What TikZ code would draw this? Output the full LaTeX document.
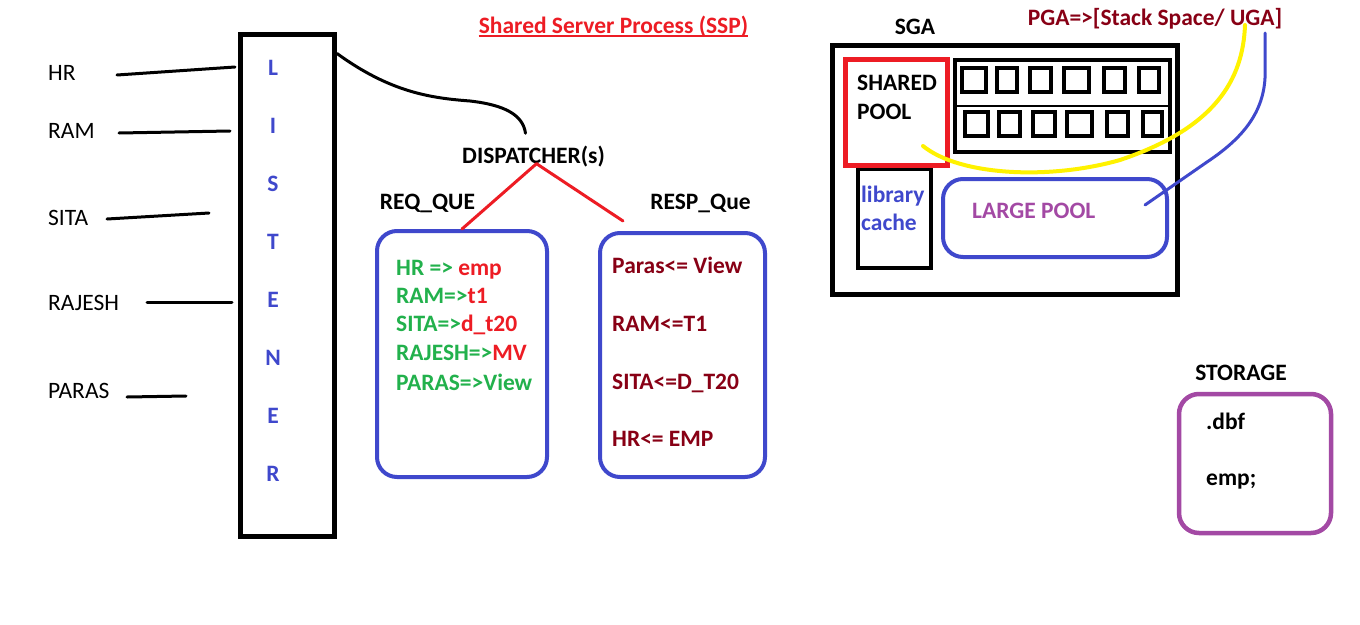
\documentclass[tikz,border=0pt]{standalone}
\usepackage{fontspec}
\setmainfont{Carlito}
\definecolor{penblue}{HTML}{3F48CC}
\definecolor{penred}{HTML}{ED1C24}
\definecolor{pengreen}{HTML}{22B14C}
\definecolor{penbrown}{HTML}{880015}
\definecolor{penpurple}{HTML}{A349A4}
\definecolor{penyellow}{HTML}{FFF200}
\newcommand{\penfont}{\fontsize{23.5}{28}\selectfont}
\begin{document}
\begin{tikzpicture}
        [x=1pt,y=-1pt,
         txt/.style={font=\penfont,inner sep=0pt,text height=15pt,text depth=0pt},
         btxt/.style={txt,font=\penfont\bfseries},
         heavy/.style={draw,line width=5pt,inner sep=0pt},
         qbox/.style={draw=penblue,line width=4pt,rounded corners=20pt,inner sep=0pt},
         pen/.style={line width=3pt,line cap=round}]
        \useasboundingbox[fill=white] (0,0) rectangle (1360,624);

        \foreach \name/\y in {HR/73,RAM/131,SITA/218,RAJESH/303,PARAS/391}
        {\node[txt,anchor=west] (u\name) at (48,\y) {\name};}
        \foreach \name/\xa/\ya/\xb/\yb in {HR/117/75/235/67,RAM/119/133/230/131,SITA/107/219/209/213,RAJESH/147/302/232/302,PARAS/127/397/186/396}
        {\coordinate (\name a) at (\xa,\ya);
         \coordinate (\name b) at (\xb,\yb);
         \draw[pen] (\name a) -- (\name b);}

        \node[heavy,minimum width=94,minimum height=502] (listener) at (287.5,285) {};
        \foreach \ch [count=\i] in {L,I,S,T,E,N,E,R}
        {\node[btxt,text=penblue] (lst\i) at (273,10+58*\i) {\ch};}

        \node[btxt,text=penred] (ssp) at (613.5,26) {Shared Server Process (SSP)};
        \draw[penred,line width=2pt] ([yshift=-2pt]ssp.south west) -- ([yshift=-2pt]ssp.south east);

        \node[btxt] (disp) at (533.5,156) {DISPATCHER(s)};
        \draw[pen] ([yshift=-22pt]listener.north east) .. controls (390,92) and (430,98) .. (470,101)
              .. controls (505,105) and (523,115) .. ([shift={(-8,-15)}]disp.north);

        \node[btxt] (reqt) at (427.5,202) {REQ\_QUE};
        \node[btxt] (respt) at (700.5,202) {RESP\_Que};
        \node[qbox,minimum width=170,minimum height=246] (reqbox) at (462,354) {};
        \node[qbox,minimum width=165,minimum height=244] (respbox) at (682.5,355) {};

        \draw[pen,penred] (reqbox.north) -- ([xshift=3pt]disp.south);
        \draw[pen,penred] ([xshift=3pt]disp.south) -- ([shift={(25,-10)}]respbox.north west);

        \node[btxt,text=pengreen,anchor=west] (rq1) at (396,268) {HR => \textcolor{penred}{emp}};
        \node[btxt,text=pengreen,anchor=west] (rq2) at (396,296) {RAM=>\textcolor{penred}{t1}};
        \node[btxt,text=pengreen,anchor=west] (rq3) at (396,324) {SITA=>\textcolor{penred}{d\_t20}};
        \node[btxt,text=pengreen,anchor=west] (rq4) at (396,353) {RAJESH=>\textcolor{penred}{MV}};
        \node[btxt,text=pengreen,anchor=west] (rq5) at (396,383) {PARAS=>View};

        \node[btxt,text=penbrown,anchor=west] (rs1) at (612,266) {Paras<= View};
        \node[btxt,text=penbrown,anchor=west] (rs2) at (612,324) {RAM<=T1};
        \node[btxt,text=penbrown,anchor=west] (rs3) at (612,382) {SITA<=D\_T20};
        \node[btxt,text=penbrown,anchor=west] (rs4) at (612,439) {HR<= EMP};

        \node[btxt] (sgat) at (915,27) {SGA};
        \node[heavy,minimum width=345,minimum height=249] (sga) at (1005,170) {};
        \node[draw,line width=4.5pt,minimum width=73,minimum height=99] (libc) at (894.5,218.5) {};
        \node[draw=penred,line width=5pt,fill=white,minimum width=102,minimum height=106] (shp) at (896.5,112.5) {};
        \node[btxt,anchor=west] (shp1) at (857,83) {SHARED};
        \node[btxt,anchor=west] (shp2) at (857,112) {POOL};
        \node[btxt,text=penblue,anchor=west] (lib1) at (861,195) {library};
        \node[btxt,text=penblue,anchor=west] (lib2) at (861,223) {cache};

        \node[draw,line width=4.5pt,minimum width=215,minimum height=92] (grid) at (1062.5,106) {};
        \draw[line width=2pt] (grid.west) -- (grid.east);
        \foreach \xa/\xb in {962/986,997/1017,1030/1051,1064/1089,1104/1125,1139/1159}
        {\draw[line width=4.5pt] (\xa,68) rectangle (\xb,92);}
        \foreach \xa/\xb in {965/988,999/1020,1033/1055,1067/1092,1107/1128,1143/1162}
        {\draw[line width=4.5pt] (\xa,112) rectangle (\xb,136);}

        \node[qbox,minimum width=224,minimum height=78] (lpool) at (1055,218) {};
        \node[btxt,text=penpurple,anchor=west] (lpt) at (972,211) {LARGE POOL};

        \node[btxt,text=penbrown] (pga) at (1155,18) {PGA=>[Stack Space/ UGA]};
        \coordinate (ysa) at (1245,25);
        \coordinate (yse) at (923,146);
        \draw[pen,penyellow,line width=4pt] (ysa) .. controls (1243,80) and (1215,128) .. (1120,160)
              .. controls (1050,180) and (960,176) .. (yse);
        \coordinate (bsa) at (1265,33);
        \coordinate (bse) at (1145,205);
        \draw[pen,penblue] (bsa) -- (1265,78) .. controls (1263,115) and (1240,140) .. (1207,162) -- (bse);

        \node[btxt] (stt) at (1241,373) {STORAGE};
        \node[draw=penpurple,line width=4.5pt,rounded corners=20pt,minimum width=152,minimum height=139] (store) at (1255,463.5) {};
        \node[btxt,anchor=west] (st1) at (1206,422) {.dbf};
        \node[btxt,anchor=west] (st2) at (1206,478) {emp;};
      \end{tikzpicture}
\end{document}
